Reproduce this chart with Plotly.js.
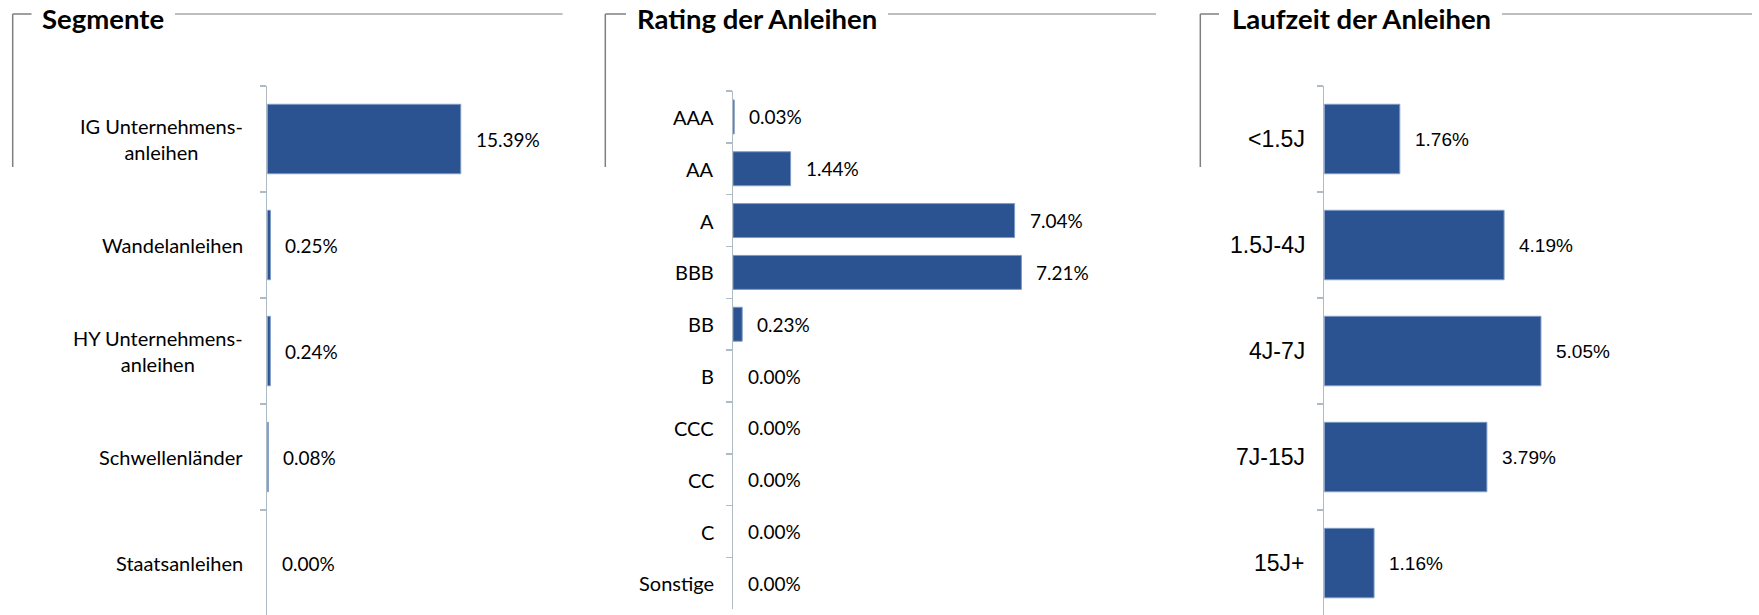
<!DOCTYPE html>
<html>
<head>
<meta charset="utf-8">
<script src="https://cdn.plot.ly/plotly-3.0.1.min.js"></script>
<style>
  html, body { margin: 0; padding: 0; background: #ffffff; }
  #chart { width: 1759px; height: 615px; }
</style>
</head>
<body>
<div id="chart"></div>
<script>
// Portfolio breakdown: segments, ratings and maturities (weights in %)
const segmentLabels = ['IG Unternehmens-<br>anleihen', 'Wandelanleihen', 'HY Unternehmens-<br>anleihen', 'Schwellenländer', 'Staatsanleihen'];
const segmentValues = [15.39, 0.25, 0.24, 0.08, 0.00];

const ratingLabels = ['AAA', 'AA', 'A', 'BBB', 'BB', 'B', 'CCC', 'CC', 'C', 'Sonstige'];
const ratingValues = [0.03, 1.44, 7.04, 7.21, 0.23, 0.00, 0.00, 0.00, 0.00, 0.00];

const maturityLabels = ['<1.5J', '1.5J-4J', '4J-7J', '7J-15J', '15J+'];
const maturityValues = [1.76, 4.19, 5.05, 3.79, 1.16];

const panelTitles = ['Segmente', 'Rating der Anleihen', 'Laufzeit der Anleihen'];

const W = 1759, H = 615;
const px = x => x / W;
const py = y => 1 - y / H;

const BAR = '#2B5291';
const BAR_EDGE = '#7E9AC4';
const AXIS = '#AEBBC5';
const FRAME = '#7F7F7F';
const CALIBRI_LIKE = 'Lato, "Open Sans", sans-serif';
const ARIAL_LIKE = '"Liberation Sans", Arial, sans-serif';

const pct = v => v.toFixed(2) + '%';

function barTrace(labels, values, xa, ya) {
  return {
    type: 'bar', orientation: 'h',
    x: values, y: labels, xaxis: xa, yaxis: ya,
    // no outline on empty bars so zero weights stay invisible
    marker: { color: BAR, line: { color: BAR_EDGE, width: values.map(v => (v > 0 ? 1 : 0)) } },
    hoverinfo: 'skip'
  };
}

const data = [
  barTrace(segmentLabels, segmentValues, 'x', 'y'),
  barTrace(ratingLabels, ratingValues, 'x2', 'y2'),
  barTrace(maturityLabels, maturityValues, 'x3', 'y3')
];

function catAxis(labels, domain, anchor, bottomIdx) {
  return {
    domain: domain, anchor: anchor,
    type: 'category', categoryorder: 'array', categoryarray: labels,
    range: [bottomIdx, -0.5],
    showline: true, linecolor: AXIS, linewidth: 1.5,
    ticks: 'outside', tickson: 'boundaries', ticklen: 6, tickcolor: AXIS, tickwidth: 1.5,
    showgrid: false, zeroline: false, showticklabels: false,
    fixedrange: true
  };
}

function valAxis(domain, anchor, maxV) {
  return { domain: domain, anchor: anchor, range: [0, maxV], visible: false, fixedrange: true };
}

const annotations = [];

// value labels right of each bar
function addValueLabels(labels, values, xa, ya, font) {
  labels.forEach((c, i) => {
    annotations.push({
      xref: xa, yref: ya, x: values[i], y: c,
      text: pct(values[i]), showarrow: false,
      xanchor: 'left', yanchor: 'middle', xshift: 13, font: font
    });
  });
}

// category names left of the axis, multi-line names centred
function addCategoryLabels(labels, xa, ya, font, shift) {
  labels.forEach(c => {
    annotations.push({
      xref: xa, yref: ya, x: 0, y: c, text: c, showarrow: false,
      xanchor: 'right', yanchor: 'middle', align: 'center', xshift: shift, font: font
    });
  });
}

const calVal = { family: CALIBRI_LIKE, size: 19, color: '#000000' };
const calCat = { family: CALIBRI_LIKE, size: 20, color: '#000000' };
const arialVal = { family: ARIAL_LIKE, size: 19, color: '#000000' };
const arialCat = { family: ARIAL_LIKE, size: 23, color: '#000000' };

addValueLabels(segmentLabels, segmentValues, 'x', 'y', calVal);
addValueLabels(ratingLabels, ratingValues, 'x2', 'y2', calVal);
addValueLabels(maturityLabels, maturityValues, 'x3', 'y3', arialVal);

addCategoryLabels(segmentLabels, 'x', 'y', calCat, -22);
addCategoryLabels(ratingLabels, 'x2', 'y2', calCat, -17);
addCategoryLabels(maturityLabels, 'x3', 'y3', arialCat, -17.5);

// panel headings
const titleX = [40, 634.5, 1229.5];
panelTitles.forEach((t, i) => {
  annotations.push({
    xref: 'paper', yref: 'paper', x: px(titleX[i]), y: py(18.5),
    text: '<b>' + t + '</b>', showarrow: false,
    xanchor: 'left', yanchor: 'middle',
    font: { family: CALIBRI_LIKE, size: 27.5, color: '#000000' }
  });
});

// heading frames: vertical bracket, short lead-in and rule after the heading
const frames = [
  { vx: 12.7, lead: 31.5, r0: 175, r1: 562.6 },
  { vx: 605.3, lead: 626, r0: 888, r1: 1156 },
  { vx: 1200.3, lead: 1219, r0: 1502, r1: 1752 }
];
const shapes = [];
frames.forEach(f => {
  shapes.push({ type: 'line', xref: 'paper', yref: 'paper', x0: px(f.vx), x1: px(f.vx), y0: py(14), y1: py(167), line: { color: FRAME, width: 1.5 } });
  shapes.push({ type: 'line', xref: 'paper', yref: 'paper', x0: px(f.vx), x1: px(f.lead), y0: py(14), y1: py(14), line: { color: FRAME, width: 1.5 } });
  shapes.push({ type: 'line', xref: 'paper', yref: 'paper', x0: px(f.r0), x1: px(f.r1), y0: py(14), y1: py(14), line: { color: FRAME, width: 1 } });
});

const layout = {
  width: W, height: H, autosize: false,
  margin: { l: 0, r: 0, t: 0, b: 0, pad: 0 },
  paper_bgcolor: '#ffffff', plot_bgcolor: 'rgba(0,0,0,0)',
  showlegend: false, bargap: 0.345,
  xaxis: valAxis([px(267.3), px(267.3 + 12.57 * 20)], 'y', 20),
  yaxis: catAxis(segmentLabels, [0, py(86)], 'x', 4.49),
  xaxis2: valAxis([px(733), px(733 + 40.0 * 8)], 'y2', 8),
  yaxis2: catAxis(ratingLabels, [py(609.3), py(91)], 'x2', 9.5),
  xaxis3: valAxis([px(1324.3), px(1324.3 + 42.9 * 6)], 'y3', 6),
  yaxis3: catAxis(maturityLabels, [0, py(86)], 'x3', 4.49),
  annotations: annotations,
  shapes: shapes
};

Plotly.newPlot('chart', data, layout, { displayModeBar: false, staticPlot: true });
</script>
</body>
</html>
